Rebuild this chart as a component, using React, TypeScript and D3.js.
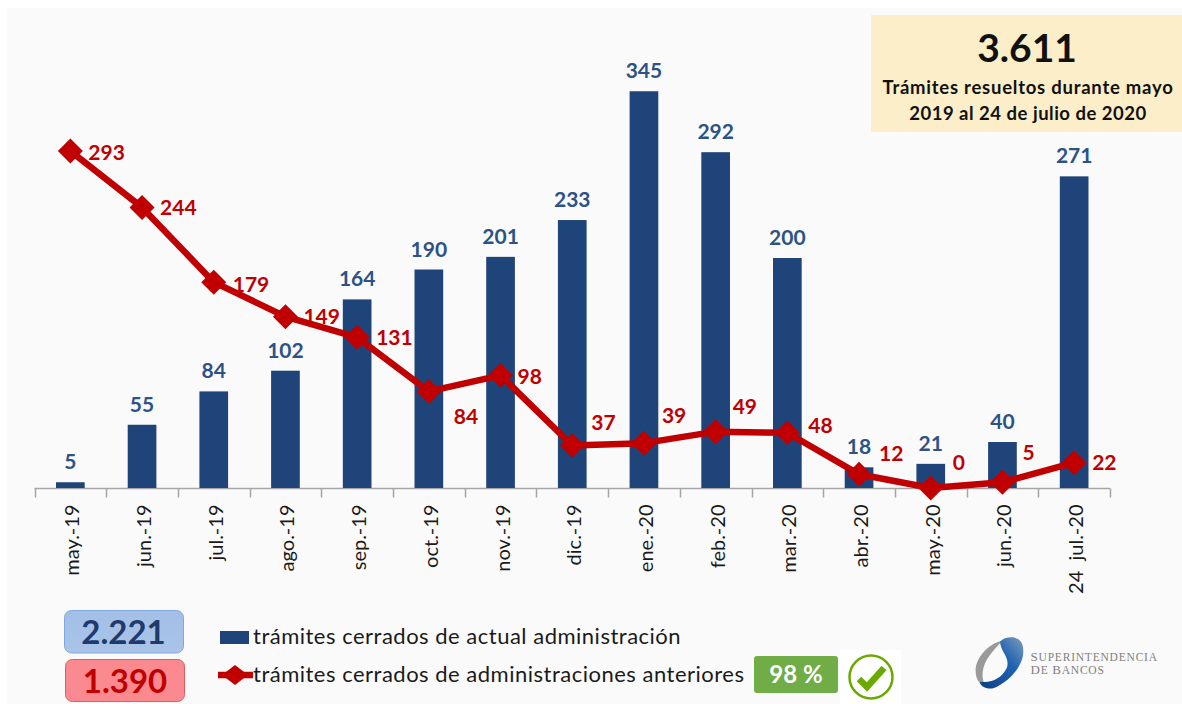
import React, { useEffect, useRef } from 'react';
import * as d3 from 'd3';

const months = ['may.-19', 'jun.-19', 'jul.-19', 'ago.-19', 'sep.-19', 'oct.-19', 'nov.-19', 'dic.-19', 'ene.-20', 'feb.-20', 'mar.-20', 'abr.-20', 'may.-20', 'jun.-20', '24  jul.-20'];
const actual = [5, 55, 84, 102, 164, 190, 201, 233, 345, 292, 200, 18, 21, 40, 271];
const previous = [293, 244, 179, 149, 131, 84, 98, 37, 39, 49, 48, 12, 0, 5, 22];
// label nudges for the red series, relative to its point
const prevLabelDx = [18, 18, 19, 18, 19, 25, 17, 19, 18, 17, 21, 20, 22, 20, 18];
const prevLabelDy = [1, 0, 2, 0, 0, 25, 1, -23, -28, -25, -7, -21, -26, -30, 0];

const BLUE = '#1f4479';
const RED = '#c00000';
const FONT = 'Lato, "Open Sans", sans-serif';

const App = () => {
  const svgRef = useRef<SVGSVGElement>(null);

  useEffect(() => {
    const svg = d3.select(svgRef.current);
    svg.selectAll('*').remove();

    svg.append('rect').attr('x', 7).attr('y', 8).attr('width', 1175).attr('height', 696).attr('fill', '#fafafa');

    const x = d3.scaleBand().domain(months).range([34.5, 1110]).paddingInner(0.6).paddingOuter(0.3);
    const y = d3.scaleLinear().domain([0, 400]).range([488, 28]);
    const cx = (m: string) => (x(m) as number) + x.bandwidth() / 2;

    // axis: ticks between categories, labels rotated
    const axis = svg.append('g').attr('transform', 'translate(0,488.5)');
    const step = x.step();
    axis.append('line').attr('x1', 34.5).attr('x2', 1110).attr('stroke', '#a6a6a6').attr('stroke-width', 1.5);
    d3.range(months.length + 1).forEach((i) => {
      const tx = Math.round(34.5 + i * step) + 0.5;
      axis.append('line').attr('x1', tx).attr('x2', tx).attr('y1', 0).attr('y2', 9).attr('stroke', '#a6a6a6').attr('stroke-width', 1.5);
    });
    months.forEach((m) => {
      axis.append('text')
        .attr('transform', `translate(${cx(m) + 9},16) rotate(-90)`)
        .attr('text-anchor', 'end')
        .attr('font-family', FONT)
        .attr('font-size', 20)
        .attr('fill', '#1a1a1a')
        .attr('xml:space', 'preserve')
        .text(m);
    });

    svg.append('g').selectAll('rect').data(actual).enter().append('rect')
      .attr('x', (_, i) => x(months[i]) as number)
      .attr('y', (d) => y(d))
      .attr('width', x.bandwidth())
      .attr('height', (d) => y(0) - y(d))
      .attr('fill', BLUE);

    svg.append('g').selectAll('text').data(actual).enter().append('text')
      .attr('x', (_, i) => cx(months[i]))
      .attr('y', (d) => y(d) - 13)
      .attr('text-anchor', 'middle')
      .attr('font-family', FONT)
      .attr('font-weight', 700)
      .attr('font-size', 21)
      .attr('fill', '#2d5286')
      .text((d) => d);

    const line = d3.line<number>().x((_, i) => cx(months[i])).y((d) => y(d));
    svg.append('path').attr('d', line(previous)).attr('fill', 'none').attr('stroke', RED).attr('stroke-width', 6.5).attr('stroke-linejoin', 'round');

    const diamond = 'M0,-12.5L12.5,0L0,12.5L-12.5,0Z';
    svg.append('g').selectAll('path').data(previous).enter().append('path')
      .attr('d', diamond)
      .attr('transform', (d, i) => `translate(${cx(months[i])},${y(d)})`)
      .attr('fill', RED);

    svg.append('g').selectAll('text').data(previous).enter().append('text')
      .attr('x', (_, i) => cx(months[i]) + prevLabelDx[i])
      .attr('y', (d, i) => y(d) + prevLabelDy[i] + 7.5)
      .attr('font-family', FONT)
      .attr('font-weight', 700)
      .attr('font-size', 21)
      .attr('fill', RED)
      .text((d) => d);

    // total box, top right
    svg.append('rect').attr('x', 871).attr('y', 15).attr('width', 311).attr('height', 117).attr('fill', '#fbeec8');
    svg.append('text').attr('x', 1027).attr('y', 62).attr('text-anchor', 'middle').attr('font-family', FONT).attr('font-weight', 700).attr('font-size', 39).attr('fill', '#111').text('3.611');
    svg.append('text').attr('x', 1028).attr('y', 94).attr('text-anchor', 'middle').attr('font-family', FONT).attr('font-weight', 700).attr('font-size', 18.5).attr('letter-spacing', 0.75).attr('fill', '#111').text('Trámites resueltos durante mayo');
    svg.append('text').attr('x', 1028).attr('y', 120).attr('text-anchor', 'middle').attr('font-family', FONT).attr('font-weight', 700).attr('font-size', 18.5).attr('letter-spacing', 0.5).attr('fill', '#111').text('2019 al 24 de julio de 2020');

    // legend
    const defs = svg.append('defs');
    const blueBox = defs.append('linearGradient').attr('id', 'blueBox').attr('x1', 0).attr('x2', 0).attr('y1', 0).attr('y2', 1);
    blueBox.append('stop').attr('offset', '0%').attr('stop-color', '#a3bfe6');
    blueBox.append('stop').attr('offset', '100%').attr('stop-color', '#a9c4e8');

    svg.append('rect').attr('x', 64.5).attr('y', 610.5).attr('width', 119).attr('height', 42.5).attr('rx', 7).attr('fill', 'url(#blueBox)').attr('stroke', '#7fa9de');
    svg.append('text').attr('x', 123.5).attr('y', 644).attr('text-anchor', 'middle').attr('font-family', FONT).attr('font-weight', 700).attr('font-size', 33).attr('fill', '#1f3a6b').text('2.221');
    svg.append('rect').attr('x', 65.5).attr('y', 659.5).attr('width', 119).attr('height', 42).attr('rx', 7).attr('fill', '#fa8a8f').attr('stroke', '#dd5c60');
    svg.append('text').attr('x', 125).attr('y', 693).attr('text-anchor', 'middle').attr('font-family', FONT).attr('font-weight', 700).attr('font-size', 33).attr('fill', RED).text('1.390');

    svg.append('rect').attr('x', 220).attr('y', 631).attr('width', 29).attr('height', 13).attr('fill', BLUE);
    svg.append('text').attr('x', 253).attr('y', 644).attr('font-family', FONT).attr('font-size', 22).attr('letter-spacing', 0.5).attr('fill', '#1a1a1a').text('trámites cerrados de actual administración');
    svg.append('line').attr('x1', 218).attr('x2', 253).attr('y1', 675).attr('y2', 675).attr('stroke', RED).attr('stroke-width', 6.5);
    svg.append('path').attr('d', 'M0,-10L13,0L0,10L-13,0Z').attr('transform', 'translate(235,675)').attr('fill', RED);
    svg.append('text').attr('x', 253).attr('y', 682).attr('font-family', FONT).attr('font-size', 22).attr('letter-spacing', 0.5).attr('fill', '#1a1a1a').text('trámites cerrados de administraciones anteriores');

    svg.append('rect').attr('x', 754).attr('y', 656).attr('width', 84).attr('height', 37).attr('rx', 3).attr('fill', '#70ad47');
    svg.append('text').attr('x', 796).attr('y', 683).attr('text-anchor', 'middle').attr('font-family', FONT).attr('font-weight', 700).attr('font-size', 24).attr('fill', '#fff').text('98 %');

    svg.append('rect').attr('x', 840).attr('y', 650).attr('width', 61).attr('height', 54).attr('fill', '#fff');
    svg.append('circle').attr('cx', 871).attr('cy', 677).attr('r', 21.5).attr('fill', 'none').attr('stroke', '#6aa900').attr('stroke-width', 2.5);
    svg.append('path').attr('d', 'M859,679L867,687L884,668').attr('fill', 'none').attr('stroke', '#6aa900').attr('stroke-width', 6.5);

    // logo
    const grad = defs.append('linearGradient').attr('id', 'logoBlue').attr('x1', 0).attr('x2', 1).attr('y1', 1).attr('y2', 0);
    grad.append('stop').attr('offset', '0%').attr('stop-color', '#0d3f86');
    grad.append('stop').attr('offset', '60%').attr('stop-color', '#1f62b0');
    grad.append('stop').attr('offset', '100%').attr('stop-color', '#7f9dbc');
    const logo = svg.append('g').attr('transform', 'translate(960,625) scale(0.3333)');
    logo.append('path')
      .attr('d', 'M125,48C85,55 45,100 47,140C48,165 60,180 80,185C60,165 65,120 90,90C105,70 118,58 125,48Z')
      .attr('fill', '#9a9a9a');
    logo.append('path')
      .attr('d', 'M120,50C130,38 150,35 165,38C185,45 190,60 190,80C190,120 150,170 100,190C75,193 60,182 60,170C95,175 125,160 140,130C150,105 130,85 125,70C122,60 120,55 120,50Z')
      .attr('fill', 'url(#logoBlue)');

    // hand-made small caps: larger initials, smaller rest
    const logoText = (ty: number, parts: [string, number][]) => {
      const t = svg.append('text').attr('x', 1030.5).attr('y', ty).attr('font-family', '"Liberation Serif", serif').attr('letter-spacing', 0.8).attr('fill', '#7f7f7f').attr('xml:space', 'preserve');
      parts.forEach(([s, size]) => t.append('tspan').attr('font-size', size).text(s));
    };
    logoText(661, [['S', 13], ['UPERINTENDENCIA', 11.5]]);
    logoText(674, [['D', 13], ['E ', 11.5], ['B', 13], ['ANCOS', 11.5]]);
  }, []);

  return <svg ref={svgRef} width={1182} height={704} style={{ position: 'absolute', left: 0, top: 0 }} />;
};

export default App;
